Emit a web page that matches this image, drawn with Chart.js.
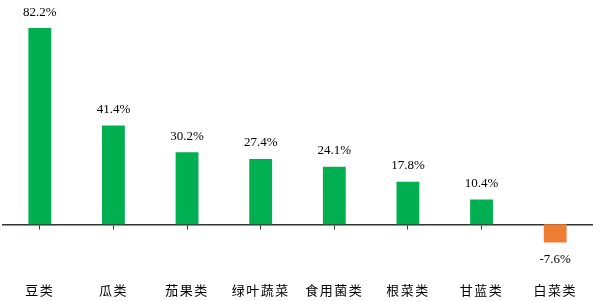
<!DOCTYPE html>
<html>
<head>
<meta charset="utf-8">
<script src="https://cdn.jsdelivr.net/npm/chart.js@4.4.0/dist/chart.umd.min.js"></script>
<style>
  html, body { margin: 0; padding: 0; background: #fff; }
  #wrap { width: 600px; height: 301px; }
</style>
</head>
<body>
<div id="wrap"><canvas id="grafZmena"></canvas></div>
<script>
const kategorie = ["豆类", "瓜类", "茄果类", "绿叶蔬菜", "食用菌类", "根菜类", "甘蓝类", "白菜类"];
const hodnoty = [82.2, 41.4, 30.2, 27.4, 24.1, 17.8, 10.4, -7.6];
const popisky = ["82.2%", "41.4%", "30.2%", "27.4%", "24.1%", "17.8%", "10.4%", "-7.6%"];

const barvy = hodnoty.map(function(v) { return v < 0 ? "#ED7D31" : "#00B050"; });

// value labels above / below each bar, wider letter spacing for category text
const popiskyPlugin = {
    id: "popisky",
    beforeDraw: function(chart) { chart.ctx.letterSpacing = "1.5px"; },
    beforeDatasetsDraw: function(chart) { chart.ctx.letterSpacing = "0px"; },
    afterDatasetsDraw: function(chart) {
        const ctx = chart.ctx;
        const meta = chart.getDatasetMeta(0);
        ctx.save();
        ctx.font = "13px 'Liberation Serif', serif";
        ctx.fillStyle = "#000";
        ctx.textAlign = "center";
        ctx.textBaseline = "middle";
        meta.data.forEach(function(bar, i) {
            const y = hodnoty[i] >= 0 ? bar.y - 16 : bar.y + 17;
            ctx.fillText(popisky[i], bar.x, y);
        });
        ctx.restore();
    }
};

new Chart(document.getElementById("grafZmena"), {
    type: "bar",
    data: {
        labels: kategorie,
        datasets: [{ data: hodnoty, backgroundColor: barvy, barPercentage: 0.31, categoryPercentage: 1 }]
    },
    options: {
        responsive: true,
        maintainAspectRatio: false,
        animation: false,
        layout: { padding: { left: 3, right: 8, top: 9, bottom: 1 } },
        plugins: { legend: { display: false }, tooltip: { enabled: false } },
        scales: {
            x: {
                position: { y: 0 },
                grid: { display: true, drawOnChartArea: false, offset: false, tickLength: 4, color: "#333", tickWidth: 1 },
                border: { display: true, color: "#333", width: 1.5 },
                ticks: { color: "rgba(0,0,0,0)", autoSkip: false, maxRotation: 0 }
            },
            xPopisky: {
                type: "category",
                axis: "x",
                position: "bottom",
                grid: { display: false, drawTicks: false },
                border: { display: false },
                ticks: { padding: 2, maxRotation: 0, autoSkip: false, color: "#000", font: { family: "'Noto Sans CJK SC'", size: 13 } }
            },
            y: {
                display: false,
                min: -23.5,
                max: 90.2
            }
        }
    },
    plugins: [popiskyPlugin]
});
</script>
</body>
</html>
